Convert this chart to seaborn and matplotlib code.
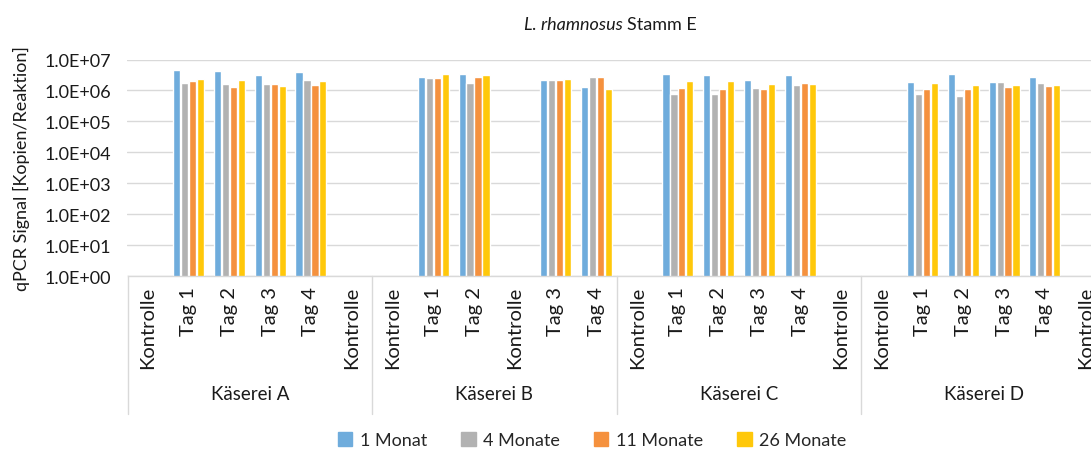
import numpy as np
import pandas as pd
import matplotlib
matplotlib.use("Agg")
import matplotlib.pyplot as plt
from matplotlib.ticker import FixedLocator, FuncFormatter, NullLocator
from matplotlib.lines import Line2D
import seaborn as sns

# Daten (Kontrolle = kein Signal)
kaesereien = ["Käserei A", "Käserei B", "Käserei C", "Käserei D"]
kategorien = [
    "Kontrolle", "Tag 1", "Tag 2", "Tag 3", "Tag 4", "Kontrolle",
    "Kontrolle", "Tag 1", "Tag 2", "Kontrolle", "Tag 3", "Tag 4",
    "Kontrolle", "Tag 1", "Tag 2", "Tag 3", "Tag 4", "Kontrolle",
    "Kontrolle", "Tag 1", "Tag 2", "Tag 3", "Tag 4", "Kontrolle",
]
serien = ["1 Monat", "4 Monate", "11 Monate", "26 Monate"]
nan = np.nan
monat_1 = [nan, 4.7e6, 4.3e6, 3.2e6, 3.8e6, nan,
           nan, 2.7e6, 3.5e6, nan, 2.2e6, 1.3e6,
           nan, 3.5e6, 3.2e6, 2.2e6, 3.1e6, nan,
           nan, 1.9e6, 3.5e6, 1.9e6, 2.7e6, nan]
monate_4 = [nan, 1.7e6, 1.65e6, 1.6e6, 2.2e6, nan,
            nan, 2.5e6, 1.7e6, nan, 2.2e6, 2.8e6,
            nan, 7.6e5, 7.6e5, 1.2e6, 1.55e6, nan,
            nan, 7.4e5, 6.6e5, 1.85e6, 1.7e6, nan]
monate_11 = [nan, 2.0e6, 1.25e6, 1.6e6, 1.55e6, nan,
             nan, 2.6e6, 2.8e6, nan, 2.15e6, 2.8e6,
             nan, 1.2e6, 1.1e6, 1.1e6, 1.7e6, nan,
             nan, 1.1e6, 1.1e6, 1.3e6, 1.35e6, nan]
monate_26 = [nan, 2.4e6, 2.2e6, 1.4e6, 2.0e6, nan,
             nan, 3.4e6, 3.2e6, nan, 2.4e6, 1.1e6,
             nan, 2.0e6, 2.0e6, 1.6e6, 1.6e6, nan,
             nan, 1.8e6, 1.5e6, 1.5e6, 1.55e6, nan]
farben = ["#6FACDC", "#B2B2B2", "#F5913E", "#FFC80A"]

sns.set_theme(style="white")
plt.rcParams["font.family"] = ["Lato", "DejaVu Sans"]
fs = 13
textfarbe = "#1a1a1a"

# Long-Format
ids = [f"k{i}" for i in range(len(kategorien))]
rows = []
for name, werte in zip(serien, [monat_1, monate_4, monate_11, monate_26]):
    for cid, v in zip(ids, werte):
        rows.append({"kat": cid, "serie": name, "wert": v})
df = pd.DataFrame(rows)

fig = plt.figure(figsize=(10.91, 4.52), dpi=100)
W, H = 1091, 452
x0, x1, y_top, y_bot = 127.5, 1106, 60.5, 277
ax = fig.add_axes([x0 / W, 1 - y_bot / H, (x1 - x0) / W, (y_bot - y_top) / H])
ax.set_yscale("log")

sns.barplot(data=df, x="kat", y="wert", hue="serie", order=ids,
            hue_order=serien, palette=farben, width=0.78, gap=0.1,
            saturation=1, errorbar=None, legend=False, ax=ax)

ax.set_ylim(1, 1e7)
ax.set_xlim(-0.5, len(ids) - 0.5)
ax.yaxis.set_major_locator(FixedLocator([10.0 ** k for k in range(8)]))
ax.yaxis.set_minor_locator(NullLocator())
ax.yaxis.set_major_formatter(FuncFormatter(lambda v, p: f"{v:.1E}"))
ax.grid(axis="y", color="#D9D9D9", linewidth=1)
ax.set_axisbelow(True)
for s in ["top", "right", "left"]:
    ax.spines[s].set_visible(False)
ax.spines["bottom"].set_color("#D9D9D9")
ax.spines["bottom"].set_linewidth(1)

ax.set_xticks(range(len(ids)))
ax.set_xticklabels(kategorien, rotation=90, fontsize=14.5, color=textfarbe)
ax.tick_params(axis="x", length=0, pad=7)
ax.tick_params(axis="y", length=0, pad=12, labelsize=fs, labelcolor=textfarbe)
ax.set_xlabel("")
ax.set_ylabel("qPCR Signal [Kopien/Reaktion]", fontsize=fs, color=textfarbe,
              labelpad=10)

# Gruppenbeschriftung und Trennlinien
trans = ax.get_xaxis_transform()
h_ax = y_bot - y_top
for g, name in enumerate(kaesereien):
    ax.text(2.5 + 6 * g, -(395 - y_bot) / h_ax, name, transform=trans,
            ha="center", va="center", fontsize=13.5, color=textfarbe)
for g in range(len(kaesereien) + 1):
    ax.add_line(Line2D([-0.5 + 6 * g] * 2, [0, -(415 - y_bot) / h_ax],
                       transform=trans, color="#D9D9D9", linewidth=1,
                       clip_on=False))

# Titel mit kursivem Artnamen
fig.text(623 / W, 1 - 25 / H, "L. rhamnosus", style="italic", ha="right",
         va="center", fontsize=fs, color=textfarbe)
fig.text(627 / W, 1 - 25 / H, "Stamm E", ha="left", va="center",
         fontsize=fs, color=textfarbe)

handles = [plt.Rectangle((0, 0), 1, 1, color=c) for c in farben]
fig.legend(handles, serien, loc="center", bbox_to_anchor=(592 / W, 1 - 441 / H),
           ncol=4, frameon=False, fontsize=fs, handlelength=0.8,
           handleheight=0.8, handletextpad=0.4, columnspacing=1.9)

fig.savefig("out.png", dpi=100)
